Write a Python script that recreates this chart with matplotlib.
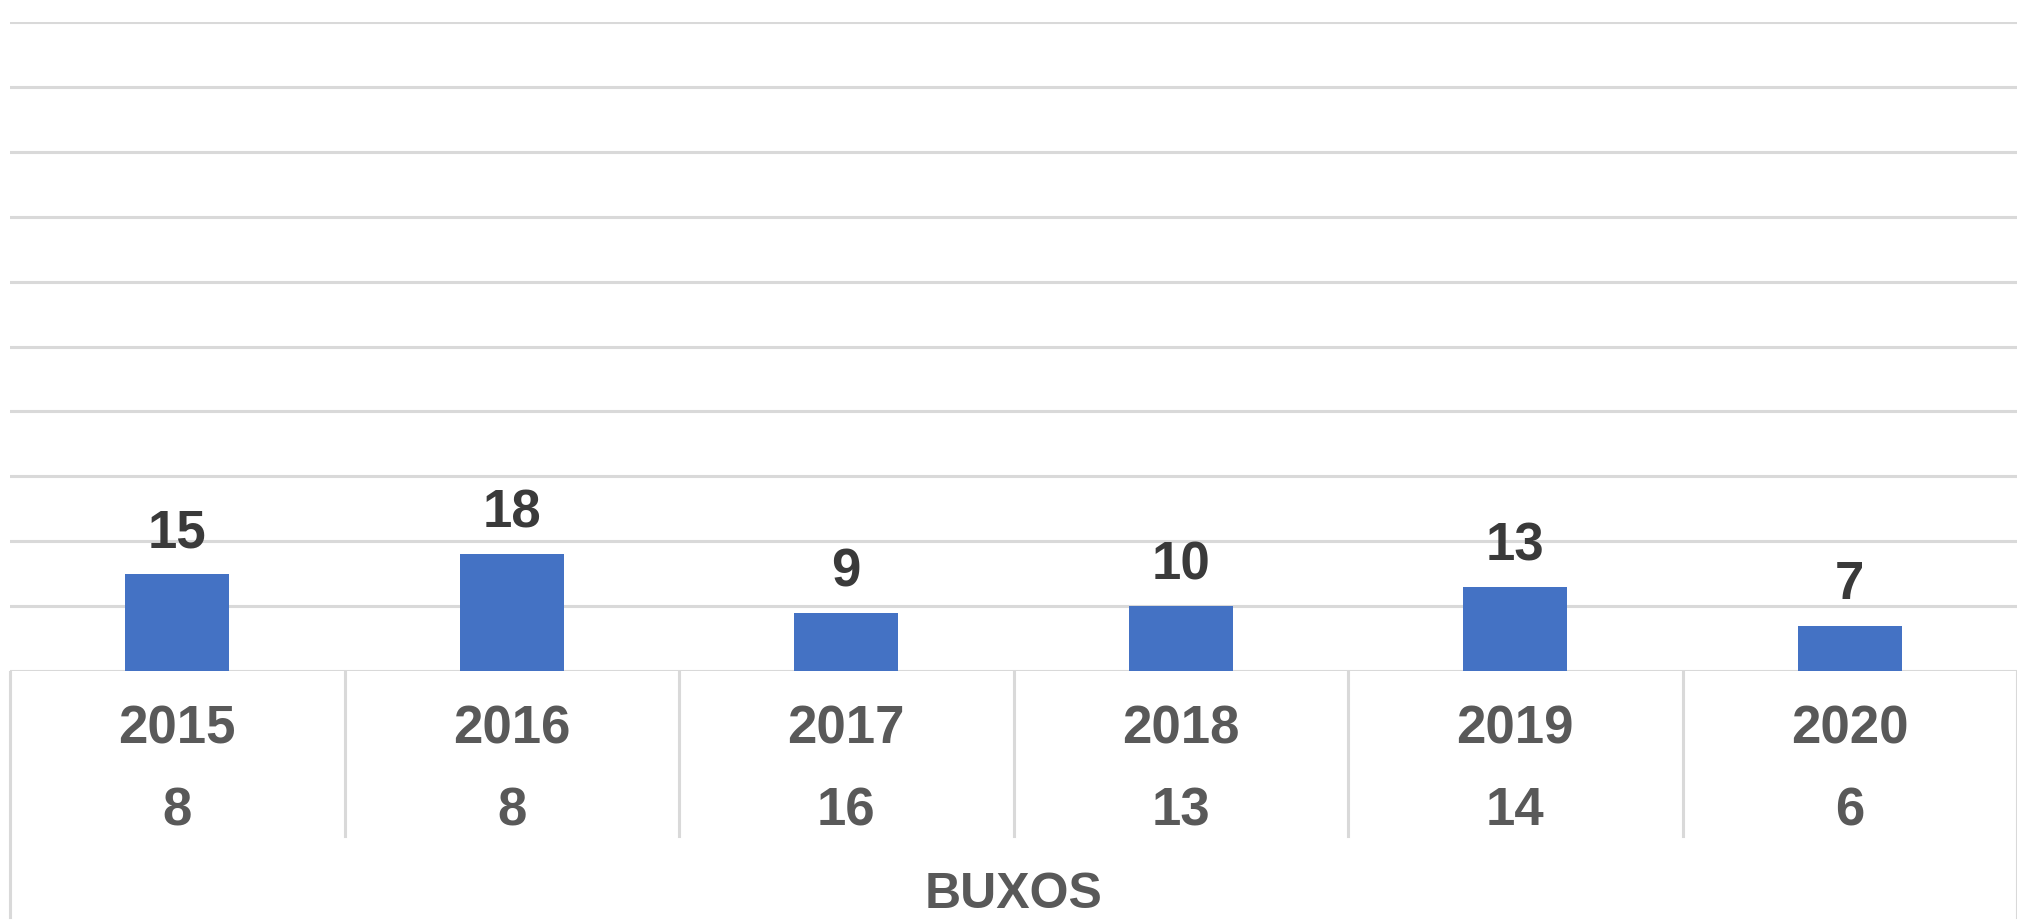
import matplotlib.pyplot as plt
from matplotlib.transforms import blended_transform_factory
import numpy as np

plt.rcParams['font.family'] = ['Liberation Sans', 'DejaVu Sans']

years = ['2015', '2016', '2017', '2018', '2019', '2020']
bar_values = [15, 18, 9, 10, 13, 7]
second_row = ['8', '8', '16', '13', '14', '6']
group_label = 'BUXOS'

W, H = 2017, 924
fig = plt.figure(figsize=(W / 100, H / 100), dpi=100)
ax = fig.add_axes([10 / W, 1 - 671 / H, 1 - 10 / W, (671 - 22) / H])

x = np.arange(len(years))
bars = ax.bar(x, bar_values, width=0.31, color='#4472C4', zorder=3)

ax.set_xlim(-0.5, len(years) - 0.5)
ax.set_ylim(0, 100)
ax.set_yticks(np.arange(0, 101, 10))
ax.yaxis.grid(True, color='#d9d9d9', linewidth=2.2)
ax.set_axisbelow(True)
ax.tick_params(left=False, bottom=False, labelleft=False, labelbottom=False)
for s in ax.spines.values():
    s.set_visible(False)

# value labels on bars
for xi, v in zip(x, bar_values):
    ax.annotate(str(v), (xi, v), xytext=(0, 19), textcoords='offset points',
                ha='center', va='baseline', fontsize=38, fontweight='bold',
                color='#3a3a3a')

# multi-level category axis drawn as a table
tr = blended_transform_factory(ax.transData, fig.transFigure)
def fy(px):
    return 1 - px / H

for k in range(len(years) + 1):
    bottom = 917 if k in (0, len(years)) else 836
    ax.plot([k - 0.5, k - 0.5], [fy(672), fy(bottom)], transform=tr,
            color='#d9d9d9', linewidth=2.2, clip_on=False)

for xi, yr, s in zip(x, years, second_row):
    ax.text(xi, fy(744), yr, transform=tr, ha='center', va='baseline',
            fontsize=38, fontweight='bold', color='#595959')
    ax.text(xi, fy(825), s, transform=tr, ha='center', va='baseline',
            fontsize=38, fontweight='bold', color='#595959')

ax.text((len(years) - 1) / 2, fy(908), group_label, transform=tr, ha='center',
        va='baseline', fontsize=36, fontweight='bold', color='#595959')

fig.savefig('out.png', dpi=100)
